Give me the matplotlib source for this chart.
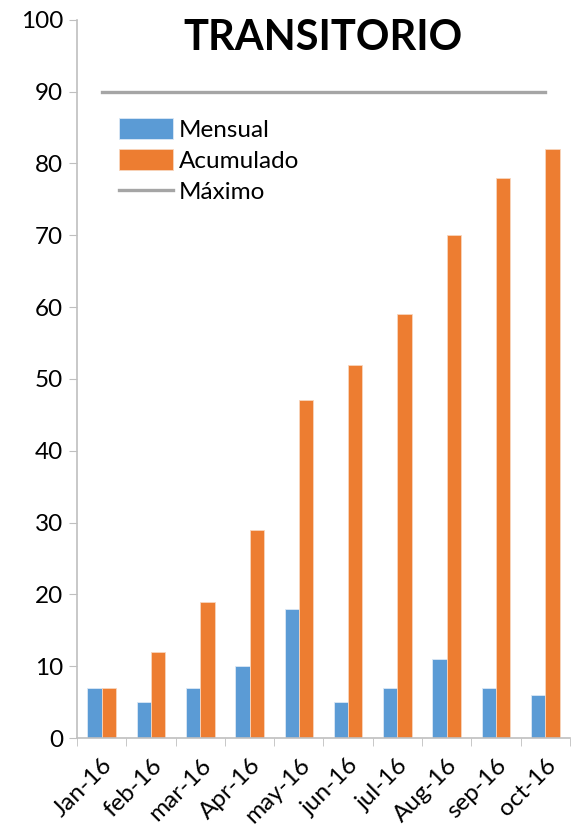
import matplotlib
matplotlib.use("Agg")
import matplotlib.pyplot as plt
import numpy as np

BLUE = "#5B9BD5"
ORANGE = "#ED7D31"
GRAY = "#A5A5A5"
AXIS_GRAY = "#BFBFBF"

meses = ["Jan-16", "feb-16", "mar-16", "Apr-16", "may-16",
         "jun-16", "jul-16", "Aug-16", "sep-16", "oct-16"]
mensual = [7, 5, 7, 10, 18, 5, 7, 11, 7, 6]
acumulado = [7, 12, 19, 29, 47, 52, 59, 70, 78, 82]
maximo = [90] * len(meses)

plt.rcParams["font.family"] = ["Lato", "DejaVu Sans"]

fig = plt.figure(figsize=(5.71, 8.26), dpi=100)
ax = fig.add_axes([0.135, 0.1065, 0.863, 0.8695])

x = np.arange(len(meses))
width = 0.29

b1 = ax.bar(x - width / 2, mensual, width, color=BLUE, edgecolor="#dbe8f5", linewidth=0.6, label="Mensual")
b2 = ax.bar(x + width / 2, acumulado, width, color=ORANGE, edgecolor="#f8d5bd", linewidth=0.6, label="Acumulado")
l1, = ax.plot(x, maximo, color=GRAY, linewidth=2.4, label="Máximo")

ax.set_xlim(-0.5, len(meses) - 0.5)
ax.set_ylim(0, 100)
ax.set_yticks(range(0, 101, 10))
ax.tick_params(axis="y", labelsize=17.5, length=6, color=AXIS_GRAY, pad=4)

ax.set_xticks(x)
ax.set_xticklabels(meses, rotation=45, ha="right", rotation_mode="anchor", fontsize=17.5)
ax.tick_params(axis="x", which="major", length=0, pad=12)
ax.set_xticks(np.arange(-0.5, len(meses)), minor=True)
ax.tick_params(axis="x", which="minor", length=6, color=AXIS_GRAY)

for side in ("top", "right"):
    ax.spines[side].set_visible(False)
for side in ("left", "bottom"):
    ax.spines[side].set_color(AXIS_GRAY)
    ax.spines[side].set_linewidth(1.2)

ax.text(0.5, 0.975, "TRANSITORIO", transform=ax.transAxes, ha="center", va="center",
        fontsize=30, fontweight="bold")

ax.legend([b1, b2, l1], ["Mensual", "Acumulado", "Máximo"],
          loc="upper left", bbox_to_anchor=(0.066, 0.877), frameon=False, fontsize=17.5,
          handlelength=2.2, handleheight=0.95, handletextpad=0.25, labelspacing=0.35,
          borderaxespad=0)

fig.savefig("out.png", dpi=100, facecolor="white")
